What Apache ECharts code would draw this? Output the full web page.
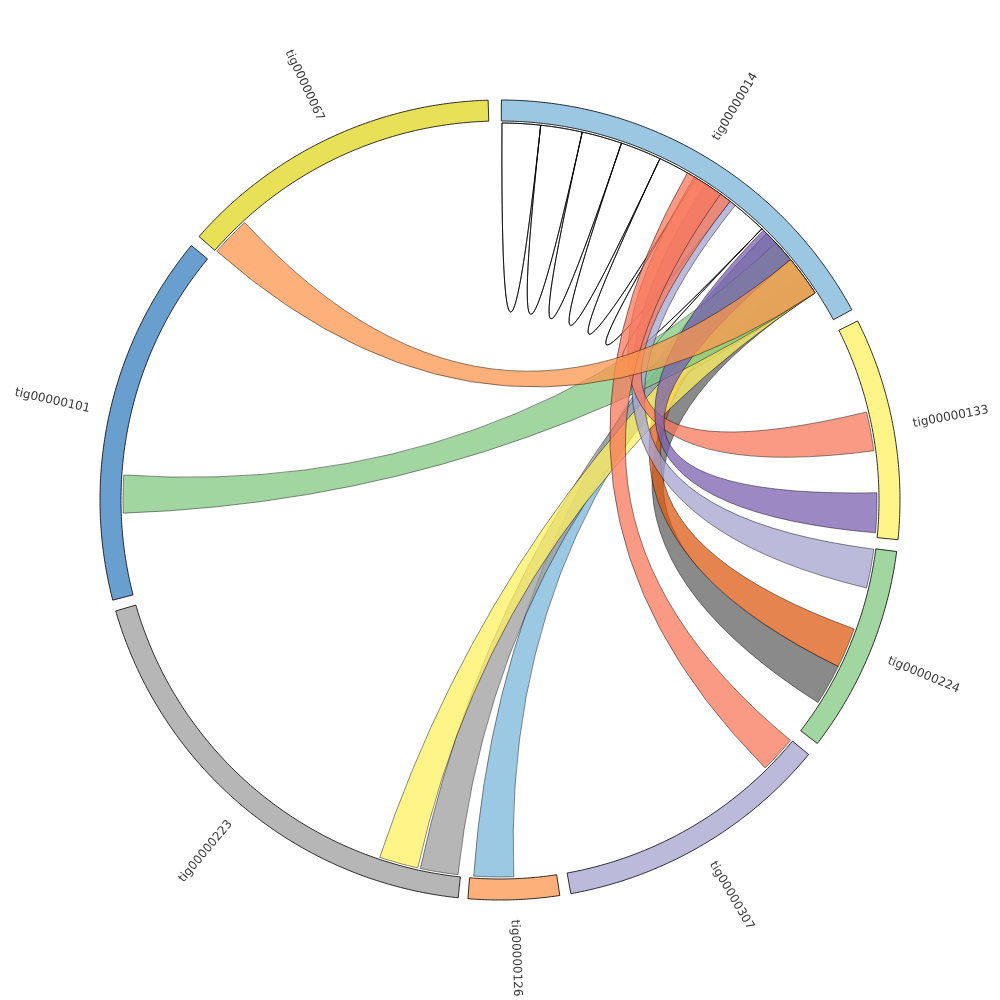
<!DOCTYPE html>
<html><head><meta charset="utf-8">
<script src="https://cdn.jsdelivr.net/npm/echarts@6/dist/echarts.min.js"></script>
<style>html,body{margin:0;padding:0;background:#fff}#c{width:1000px;height:1000px}</style>
</head><body><div id="c"></div>
<script>
// ---- sectors (angles in degrees, clockwise from 12 o'clock) ----
const sectorNames  = ['tig00000014','tig00000133','tig00000224','tig00000307','tig00000126','tig00000223','tig00000101','tig00000067'];
const sectorStart  = [0.2, 63.4, 97.4, 129.5, 171.4, 186.0, 255.5, 311.2];
const sectorEnd    = [61.6, 95.7, 127.5, 169.8, 184.6, 253.9, 309.5, 358.3];
const sectorColors = ['#9BC7E2','#FFF487','#A1D6A1','#BCBADB','#FDB07A','#B6B6B6','#699FCF','#E8E157'];

// ---- self links on tig00000014 (consecutive edges) ----
const loopEdges = [0.3, 6.2, 12.6, 18.8, 25.1, 31.3, 37.6, 44.0, 50.3, 56.6];

// ---- ribbons: source interval -> target interval (on tig00000014) ----
const linkSrcStart = [116.2, 110.0, 177.9, 186.4, 192.6, 268.0,  97.5,  76.5, 129.6,  88.9, 311.3];
const linkSrcEnd   = [122.5, 116.2, 184.0, 192.2, 198.6, 273.8, 103.5,  82.5, 135.3,  95.0, 317.4];
const linkTgtStart = [ 50.5,  45.0,  45.0,  47.0,  50.4,  47.0,  33.0,  31.0,  29.8,  44.3,  50.4];
const linkTgtEnd   = [ 56.7,  51.0,  51.0,  53.0,  56.7,  56.7,  38.6,  37.6,  35.8,  50.4,  56.7];
const linkColors   = ['#8A8A8A','#E6844F','#9BC8E2','#B6B6B6','#FFF487','#A1D6A1','#BCBADB','#FA9A85','#FA9A85','#9C88C2','#FDB07A'];

const R_OUT = 400, R_IN = 379, R_LINK = 377, R_LABEL = 420;
const ALPHA = 0.75;

function rgbaFromOnWhite(hex, a) {
  const v = [1,3,5].map(i => parseInt(hex.substr(i,2),16));
  const b = v.map(c => Math.max(0, Math.min(255, Math.round(255 - (255 - c) / a))));
  return 'rgba(' + b.join(',') + ',' + a + ')';
}
function arcPts(api, r, a0, a1) {
  const n = Math.max(2, Math.ceil(Math.abs(a1 - a0) / 0.4));
  const pts = [];
  for (let i = 0; i <= n; i++) pts.push(api.coord([r, a0 + (a1 - a0) * i / n]));
  return pts;
}
function ribbonPath(api, a1, a2, b1, b2) {
  const c = api.coord([0, 0]);
  const A = arcPts(api, R_LINK, a1, a2);
  const B = arcPts(api, R_LINK, b1, b2);
  let d = 'M' + A[0][0] + ' ' + A[0][1];
  for (let i = 1; i < A.length; i++) d += 'L' + A[i][0] + ' ' + A[i][1];
  d += 'Q' + c[0] + ' ' + c[1] + ' ' + B[0][0] + ' ' + B[0][1];
  for (let i = 1; i < B.length; i++) d += 'L' + B[i][0] + ' ' + B[i][1];
  d += 'Q' + c[0] + ' ' + c[1] + ' ' + A[0][0] + ' ' + A[0][1] + 'Z';
  return d;
}

const chart = echarts.init(document.getElementById('c'), null, {renderer: 'canvas'});
const idx = n => Array.from({length: n}, (_, i) => [0, i]);

chart.setOption({
  animation: false,
  backgroundColor: '#ffffff',
  polar: { center: ['50%', '50%'], radius: R_OUT },
  angleAxis: { type: 'value', min: 0, max: 360, startAngle: 90, clockwise: true,
    axisLine: {show: false}, axisTick: {show: false}, axisLabel: {show: false}, splitLine: {show: false} },
  radiusAxis: { type: 'value', min: 0, max: R_OUT,
    axisLine: {show: false}, axisTick: {show: false}, axisLabel: {show: false}, splitLine: {show: false} },
  series: [
    { // self loops
      type: 'custom', coordinateSystem: 'polar', z: 1, silent: true,
      data: idx(loopEdges.length - 1),
      renderItem: (params, api) => {
        const i = params.dataIndex;
        const a1 = loopEdges[i], a2 = loopEdges[i + 1];
        return { type: 'path', shape: { pathData: ribbonPath(api, a1, a2, a1, a2) },
          style: { fill: 'rgba(255,255,255,0)', stroke: '#000', lineWidth: 0.7 } };
      }
    },
    { // ribbons
      type: 'custom', coordinateSystem: 'polar', z: 2, silent: true,
      data: idx(linkColors.length),
      renderItem: (params, api) => {
        const i = params.dataIndex;
        return { type: 'path',
          shape: { pathData: ribbonPath(api, linkSrcStart[i], linkSrcEnd[i], linkTgtStart[i], linkTgtEnd[i]) },
          style: { fill: rgbaFromOnWhite(linkColors[i], ALPHA), stroke: 'rgba(0,0,0,0.75)', lineWidth: 0.6 } };
      }
    },
    { // sectors
      type: 'custom', coordinateSystem: 'polar', z: 3, silent: true,
      data: idx(sectorNames.length),
      renderItem: (params, api) => {
        const i = params.dataIndex;
        const pts = arcPts(api, R_OUT, sectorStart[i], sectorEnd[i])
          .concat(arcPts(api, R_IN, sectorEnd[i], sectorStart[i]));
        return { type: 'polygon', shape: { points: pts },
          style: { fill: sectorColors[i], stroke: '#000', lineWidth: 0.8 } };
      }
    },
    { // labels
      type: 'custom', coordinateSystem: 'polar', z: 4, silent: true,
      data: idx(sectorNames.length),
      renderItem: (params, api) => {
        const i = params.dataIndex;
        const mid = (sectorStart[i] + sectorEnd[i]) / 2;
        const p = api.coord([R_LABEL, mid]);
        const right = mid < 180;
        const rotDeg = right ? 90 - mid : 270 - mid;
        return { type: 'text', x: p[0], y: p[1], rotation: rotDeg * Math.PI / 180,
          style: { text: sectorNames[i], fill: '#383838', fontSize: 12, fontFamily: 'DejaVu Sans',
            align: right ? 'left' : 'right', verticalAlign: 'middle' } };
      }
    }
  ]
});
</script>
</body></html>
